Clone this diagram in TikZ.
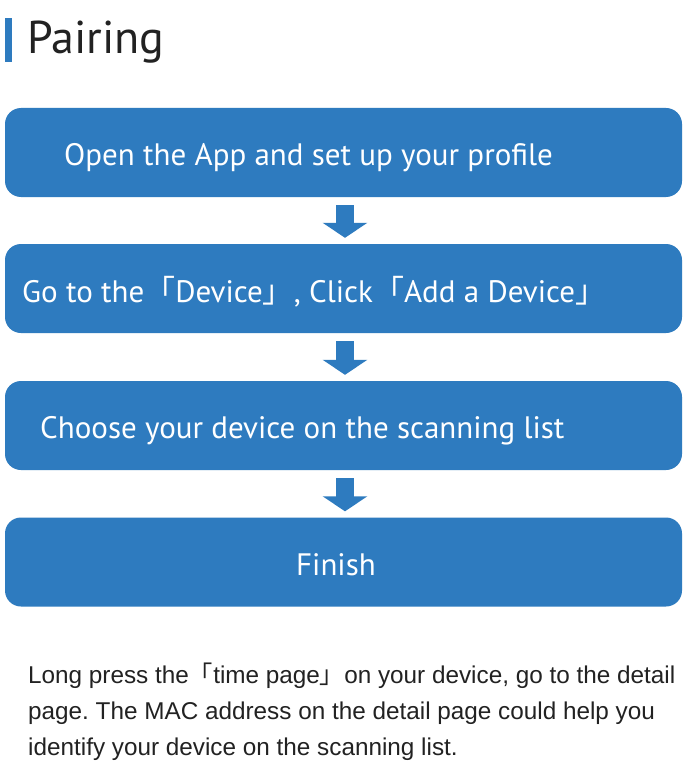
\documentclass[tikz,border=0pt]{standalone}
\usepackage{fontspec}
\setmainfont{PT Sans}
\newfontfamily\bodyfont{Liberation Sans}
\newfontfamily\cjk{Noto Sans CJK SC}
\usetikzlibrary{arrows.meta}
\frenchspacing
\definecolor{stepblue}{HTML}{2E7BBF}
\definecolor{inktext}{HTML}{222222}
\tikzset{
  stepbox/.style={fill=stepblue, draw=none, rounded corners=16pt, minimum width=677pt, minimum height=89pt, inner sep=0pt},
  steptext/.style={text=white, font=\fontsize{31}{36}\selectfont, inner sep=0pt, anchor=base west},
  flowarrow/.style={draw=stepblue, line width=18pt, -{Triangle[width=44pt,length=15pt]}, shorten <=8pt, shorten >=6pt},
  bodytext/.style={text=inktext, font=\bodyfont\fontsize{24.3}{36}\selectfont, inner sep=0pt, anchor=base west}
}
\newcommand{\lbr}{{\cjk 「}}
\newcommand{\rbr}{{\cjk 」}}
\begin{document}
\begin{tikzpicture}[x=1pt,y=-1pt]
\useasboundingbox (0,0) rectangle (692,770);
\fill[white] (0,0) rectangle (692,770);
% title
\fill[stepblue] (5,18) rectangle (12,62);
\node[text=inktext, font=\fontsize{46}{52}\selectfont, inner sep=0pt, anchor=base west] (title) at (27,54) {Pairing};
% boxes
\node[stepbox] (b1) at (343.5,152.5) {};
\node[stepbox] (b2) at (343.5,288.5) {};
\node[stepbox] (b3) at (343.5,425.5) {};
\node[stepbox] (b4) at (343.5,562) {};
\node[steptext] (t1) at (64,166) {Open the App and set up your profile};
\node[steptext] (t2) at (22,302) {Go to the\lbr Device\rbr, Click\lbr Add a Device\rbr};
\node[steptext] (t3) at (40,438) {Choose your device on the scanning list};
\node[steptext, anchor=base] (t4) at (336,575) {Finish};
% arrows
\draw[flowarrow] ([xshift=1.5pt]b1.south) -- ([xshift=1.5pt]b2.north);
\draw[flowarrow] ([xshift=1.5pt]b2.south) -- ([xshift=1.5pt]b3.north);
\draw[flowarrow] ([xshift=1.5pt]b3.south) -- ([xshift=1.5pt]b4.north);
% note
\node[bodytext] (n1) at (28,683) {Long press the\lbr time page\rbr on your device, go to the detail};
\node[bodytext] (n2) at (28,719) {page. The MAC address on the detail page could help you};
\node[bodytext] (n3) at (28,755) {identify your device on the scanning list.};
\end{tikzpicture}
\end{document}
